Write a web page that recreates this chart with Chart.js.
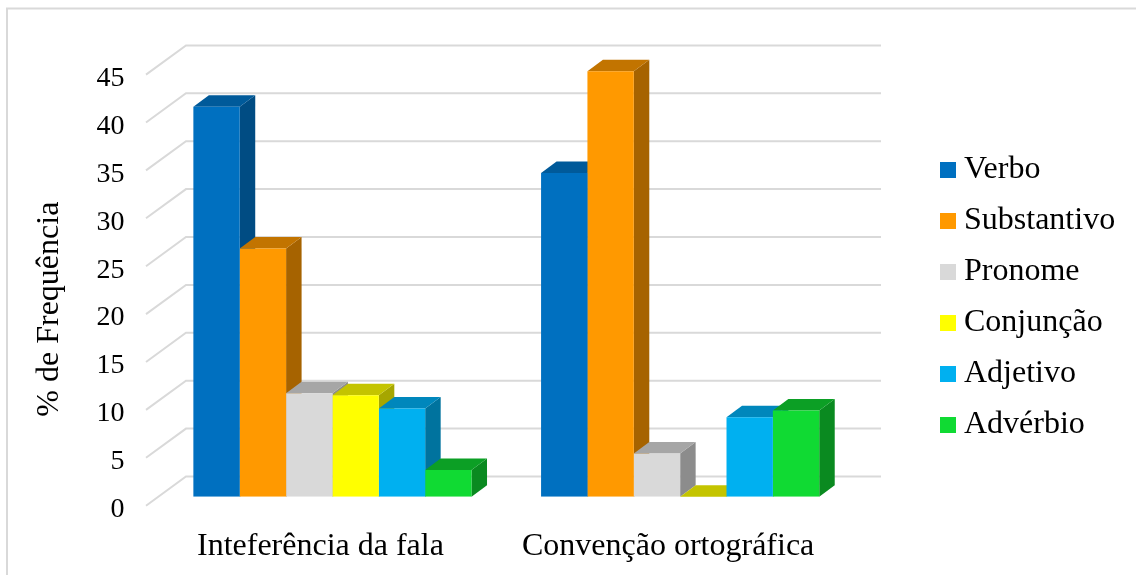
<!DOCTYPE html>
<html>
<head>
<meta charset="utf-8">
<style>
    html, body { margin: 0; padding: 0; background: #fff; }
    canvas { display: block; }
</style>
<script src="https://cdn.jsdelivr.net/npm/chart.js@4"></script>
</head>
<body>
<canvas id="chart" width="1136" height="575"></canvas>
<script>
const categories = ["Inteferência da fala", "Convenção ortográfica"];
const verbo = [40.7, 33.8];
const substantivo = [25.9, 44.4];
const pronome = [10.8, 4.5];
const conjuncao = [10.6, 0];
const adjetivo = [9.2, 8.3];
const adverbio = [2.8, 9.0];
const yTicksMax = 45;
const yTicksStep = 5;

const seriesNames = ["Verbo", "Substantivo", "Pronome", "Conjunção", "Adjetivo", "Advérbio"];
const seriesValues = [verbo, substantivo, pronome, conjuncao, adjetivo, adverbio];
const frontColors = ["#0070C0", "#FF9900", "#D9D9D9", "#FFFF00", "#00B0F0", "#10DA33"];
const topColors = ["#005A9A", "#C27400", "#A6A6A6", "#C4C400", "#0087BC", "#0C9F25"];
const sideColors = ["#004C83", "#A66300", "#8C8C8C", "#A6A600", "#00739E", "#0A8A20"];

const FONT = "'Liberation Serif', 'Times New Roman', serif";
const GRID = "#D9D9D9";

// depth of the bars and of the walls behind them
const BAR_DX = 15.5, BAR_DY = 11.5;
const WALL_LEFT = 186, WALL_RIGHT = 881, WALL_DY = 20.2;
const FLOOR_LEFT = 146, FLOOR_DY = 9;

const poly = (ctx, color, pts) => {
    ctx.fillStyle = color;
    ctx.beginPath();
    pts.forEach(([x, y], i) => i ? ctx.lineTo(x, y) : ctx.moveTo(x, y));
    ctx.closePath();
    ctx.fill();
};

// legend swatch as an image, so the text can sit closer than the box width allows
const swatch = color => {
    const c = document.createElement("canvas");
    c.width = c.height = 16;
    const g = c.getContext("2d");
    g.fillStyle = color;
    g.fillRect(0, 0, 16, 16);
    return c;
};

const frame3d = {
    id: "frame3d",
    afterLayout(chart) {
        // the legend sits right of the plot, away from the chart area
        const legend = chart.legend;
        legend.left = 928;
        legend.right = 1136;
        legend.top = 0;
        legend.bottom = 595;
    },
    beforeDatasetsDraw(chart) {
        const { ctx, scales: { y } } = chart;
        ctx.save();
        ctx.strokeStyle = GRID;
        ctx.lineWidth = 2;
        ctx.beginPath();
        ctx.moveTo(7, 575);
        ctx.lineTo(7, 8.5);
        ctx.lineTo(1136, 8.5);
        ctx.stroke();
        y.ticks.forEach(tick => {
            const py = y.getPixelForValue(tick.value);
            ctx.beginPath();
            ctx.moveTo(FLOOR_LEFT, py + FLOOR_DY);
            ctx.lineTo(WALL_LEFT, py - WALL_DY);
            ctx.lineTo(WALL_RIGHT, py - WALL_DY);
            ctx.stroke();
        });
        // side and top faces left to right, the library paints the fronts over them
        seriesNames.forEach((name, i) => {
            chart.getDatasetMeta(i).data.forEach(bar => {
                const left = bar.x - bar.width / 2;
                const right = bar.x + bar.width / 2;
                poly(ctx, sideColors[i], [
                    [right, bar.y], [right + BAR_DX, bar.y - BAR_DY],
                    [right + BAR_DX, bar.base - BAR_DY], [right, bar.base]
                ]);
                poly(ctx, topColors[i], [
                    [left, bar.y], [left + BAR_DX, bar.y - BAR_DY],
                    [right + BAR_DX, bar.y - BAR_DY], [right, bar.y]
                ]);
            });
        });
        ctx.restore();
    }
};

new Chart(document.getElementById("chart").getContext("2d"), {
    type: "bar",
    plugins: [frame3d],
    data: {
        labels: categories,
        datasets: seriesNames.map((name, i) => ({
            label: name,
            data: seriesValues[i],
            backgroundColor: frontColors[i],
            borderWidth: 0,
            categoryPercentage: 0.8,
            barPercentage: 1
        }))
    },
    options: {
        responsive: false,
        animation: false,
        layout: { padding: { top: 65.6, right: 282, left: 0, bottom: 0 } },
        plugins: {
            tooltip: { enabled: false },
            legend: {
                position: "chartArea",
                labels: {
                    color: "#000",
                    font: { family: FONT, size: 32 },
                    usePointStyle: true,
                    pointStyleWidth: 1,
                    boxHeight: 16,
                    padding: 19,
                    generateLabels: () => seriesNames.map((name, i) => ({
                        text: name,
                        fillStyle: frontColors[i],
                        strokeStyle: frontColors[i],
                        lineWidth: 0,
                        pointStyle: swatch(frontColors[i]),
                        datasetIndex: i
                    }))
                }
            }
        },
        scales: {
            x: {
                afterFit: scale => { scale.height = 78.3; },
                grid: { display: false },
                border: { display: false },
                ticks: {
                    color: "#000",
                    font: { family: FONT, size: 32 },
                    maxRotation: 0,
                    labelOffset: -12,
                    padding: 23
                }
            },
            y: {
                min: 0,
                max: yTicksMax,
                afterFit: scale => { scale.width = 158.6; },
                grid: { display: false, drawTicks: false },
                border: { display: false },
                ticks: {
                    stepSize: yTicksStep,
                    color: "#000",
                    font: { family: FONT, size: 28 },
                    labelOffset: 13,
                    padding: 34
                },
                title: {
                    display: true,
                    // trailing spaces push the centred title below the middle of the axis
                    text: "% de Frequência" + "\u00A0".repeat(7),
                    color: "#000",
                    font: { family: FONT, size: 32 },
                    padding: { top: 30, bottom: 0 }
                }
            }
        }
    }
});
</script>
</body>
</html>
